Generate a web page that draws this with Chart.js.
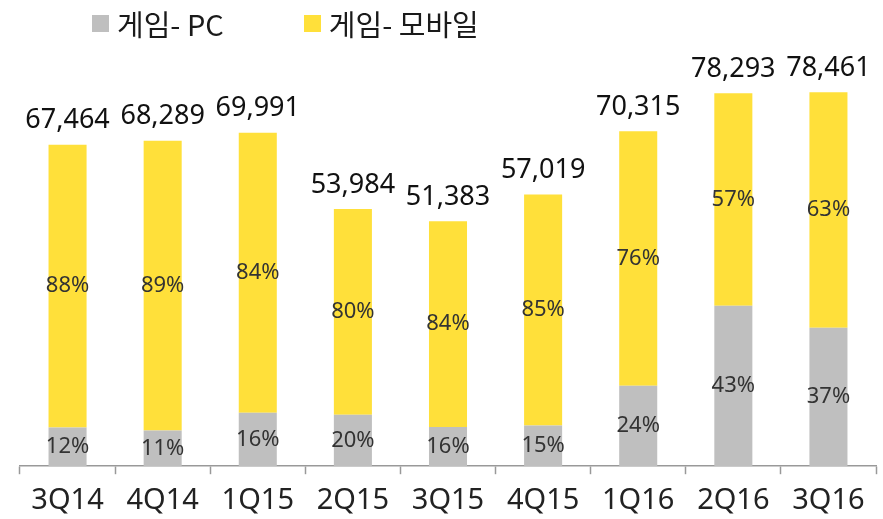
<!DOCTYPE html>
<html>
<head>
<meta charset="utf-8">
<script src="https://cdn.jsdelivr.net/npm/chart.js@4/dist/chart.umd.min.js"></script>
<style>
  body { margin: 0; background: #fff; }
  #wrap { position: relative; width: 883px; height: 519px; }
  #legend { position: absolute; left: 92px; top: 2px; display: flex; font-family: "Noto Sans CJK KR", "Noto Sans", sans-serif; font-size: 29px; color: #1a1a1a; }
  .item { display: flex; align-items: center; margin-right: 80px; }
  .box { width: 17px; height: 17px; margin-right: 8px; }
</style>
</head>
<body>
<div id="wrap">
  <canvas id="gameChart" width="883" height="519"></canvas>
  <div id="legend"></div>
</div>
<script>
// Data
const quarters = ['3Q14', '4Q14', '1Q15', '2Q15', '3Q15', '4Q15', '1Q16', '2Q16', '3Q16'];
const totals = [67464, 68289, 69991, 53984, 51383, 57019, 70315, 78293, 78461];
const pcValues = [8096, 7512, 11199, 10797, 8221, 8553, 16876, 33666, 29031];
const mobileValues = [59368, 60777, 58792, 43187, 43162, 48466, 53439, 44627, 49430];
const pcShare = [12, 11, 16, 20, 16, 15, 24, 43, 37];
const mobileShare = [88, 89, 84, 80, 84, 85, 76, 57, 63];

const seriesNames = ['게임- PC', '게임- 모바일'];
const seriesColors = ['#bfbfbf', '#ffe03a'];

// HTML legend
const legendEl = document.getElementById('legend');
seriesNames.forEach(function(name, i) {
    const item = document.createElement('div');
    item.className = 'item';
    item.innerHTML = '<span class="box" style="background:' + seriesColors[i] + '"></span><span>' + name + '</span>';
    legendEl.appendChild(item);
});

// Draw percent labels in the middle of segments and totals above bars
const labelPlugin = {
    id: 'barLabels',
    afterDatasetsDraw(chart) {
        const ctx = chart.ctx;
        const shares = [pcShare, mobileShare];
        ctx.save();
        ctx.textAlign = 'center';
        ctx.textBaseline = 'middle';
        ctx.font = '22px "Noto Sans", sans-serif';
        ctx.fillStyle = '#333';
        chart.data.datasets.forEach(function(ds, i) {
            chart.getDatasetMeta(i).data.forEach(function(bar, j) {
                const mid = (bar.y + bar.base) / 2;
                ctx.fillText(shares[i][j] + '%', bar.x, mid);
            });
        });
        ctx.font = '27px "Noto Sans", sans-serif';
        ctx.fillStyle = '#111';
        const top = chart.getDatasetMeta(1).data;
        top.forEach(function(bar, j) {
            ctx.fillText(totals[j].toLocaleString('en-US'), bar.x, bar.y - 24);
        });
        ctx.restore();
    }
};

const ctx = document.getElementById('gameChart').getContext('2d');
new Chart(ctx, {
    type: 'bar',
    data: {
        labels: quarters,
        datasets: [
            { label: seriesNames[0], data: pcValues, backgroundColor: seriesColors[0] },
            { label: seriesNames[1], data: mobileValues, backgroundColor: seriesColors[1] },
        ],
    },
    options: {
        responsive: false,
        animation: false,
        layout: { padding: { left: 20, right: 7, top: 85, bottom: 2 } },
        datasets: { bar: { barPercentage: 0.4, categoryPercentage: 1 } },
        plugins: {
            legend: { display: false },
            tooltip: { enabled: false },
        },
        scales: {
            x: {
                stacked: true,
                offset: true,
                afterFit: function(scale) { scale.height -= 10; },
                grid: { offset: true, drawOnChartArea: false, tickLength: 8, tickColor: '#999', tickWidth: 1.5 },
                border: { color: '#999', width: 1.5 },
                ticks: { color: '#222', padding: 9, font: { size: 29, family: '"Noto Sans", sans-serif' } },
            },
            y: {
                stacked: true,
                display: false,
                min: 0,
                max: 80000,
            },
        },
    },
    plugins: [labelPlugin],
});
</script>
</body>
</html>
